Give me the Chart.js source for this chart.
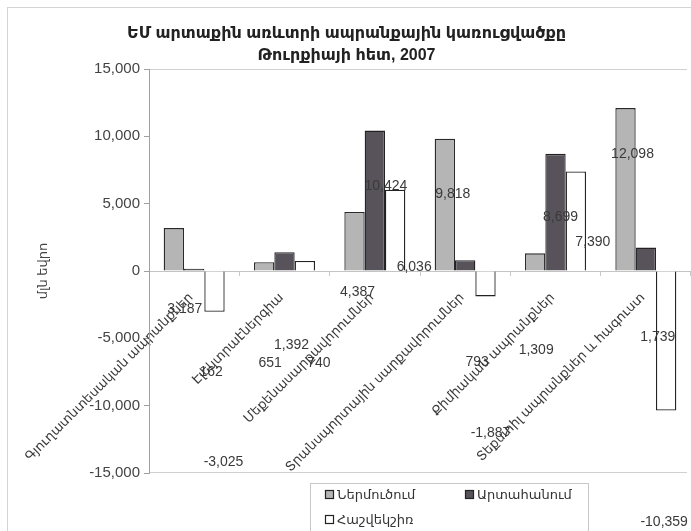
<!DOCTYPE html>
<html>
<head>
<meta charset="utf-8">
<script src="https://cdn.jsdelivr.net/npm/chart.js@4.4.1/dist/chart.umd.min.js"></script>
<style>
  html, body { margin: 0; padding: 0; background: #fff; }
  #wrap { width: 691px; height: 531px; }
</style>
</head>
<body>
<div id="wrap"><canvas id="c" width="691" height="531"></canvas></div>
<script>
// EU external trade with Turkey by product group, 2007 (million euro)
const categories = [
  'Գյուղատնտեսական ապրանքներ',
  'Էլեկտրաէներգիա',
  'Մեքենասարքավորումներ',
  'Տրանսպորտային սարքավորումներ',
  'Քիմիական ապրանքներ',
  'Տեքստիլ ապրանքներ և հագուստ'
];
const importValues  = [3187, 651, 4387, 9818, 1309, 12098];
const exportValues  = [162, 1392, 10424, 793, 8699, 1739];
const balanceValues = [-3025, 740, 6036, -1887, 7390, -10359];
const seriesNames = ['Ներմուծում', 'Արտահանում', 'Հաշվեկշիռ'];
const yTicks = [-15000, -10000, -5000, 0, 5000, 10000, 15000];
const titleLines = ['ԵՄ արտաքին առևտրի ապրանքային կառուցվածքը', 'Թուրքիայի հետ, 2007'];
const yTitle = 'մլն եվրո';

// where each value label sits, as a pixel shift from its bar's tip
const labelNudge = [
  [[11, 81], [6, 101], [3, 80], [8, 55], [1, 97], [7, 46]],
  [[17, 103], [7, 93], [11, 56], [12, 102], [5, 63], [12, 90]],
  [[9, 150], [14, 102], [19, 77], [5, 137], [17, 71], [-2, 112]]
];

const FONT = "Arial, 'Liberation Sans', 'DejaVu Sans', sans-serif";
const fmt = v => v.toLocaleString('en-US');

const frame = {
  id: 'frame',
  beforeDraw(chart) {
    const {ctx, chartArea: a, width, height} = chart;
    ctx.save();
    ctx.fillStyle = '#fff';
    ctx.fillRect(0, 0, width, height);
    ctx.strokeStyle = '#d4d4d4';
    ctx.lineWidth = 1;
    ctx.strokeRect(7.5, 7.5, width - 3, height + 20);
    ctx.strokeStyle = '#d0d0d0';
    ctx.beginPath();
    ctx.moveTo(a.left, Math.round(a.top) + 0.5);
    ctx.lineTo(a.right - 4, Math.round(a.top) + 0.5);
    ctx.moveTo(a.left, Math.round(a.bottom) - 0.5);
    ctx.lineTo(a.right - 4, Math.round(a.bottom) - 0.5);
    ctx.stroke();
    ctx.restore();
  }
};

const valueLabels = {
  id: 'valueLabels',
  afterDatasetsDraw(chart) {
    const {ctx} = chart;
    ctx.save();
    ctx.font = '14px ' + FONT;
    ctx.fillStyle = '#3a3a3a';
    ctx.textAlign = 'center';
    ctx.textBaseline = 'middle';
    chart.data.datasets.forEach((ds, di) => {
      const meta = chart.getDatasetMeta(di);
      meta.data.forEach((bar, i) => {
        const [dx, dy] = labelNudge[di][i];
        ctx.fillText(fmt(ds.data[i]), bar.x + dx, bar.y + dy);
      });
    });
    ctx.restore();
  }
};

const boxLegend = {
  id: 'boxLegend',
  afterDraw(chart) {
    const {ctx} = chart;
    const box = {x: 310, y: 483, w: 278, h: 60};
    const cols = [325, 465];
    const rows = [495, 520];
    ctx.save();
    ctx.strokeStyle = '#c8c8c8';
    ctx.lineWidth = 1;
    ctx.strokeRect(box.x + 0.5, box.y + 0.5, box.w, box.h);
    ctx.font = '13px ' + FONT;
    ctx.textBaseline = 'middle';
    ctx.textAlign = 'left';
    chart.data.datasets.forEach((ds, i) => {
      const x = cols[i % 2], y = rows[Math.floor(i / 2)];
      ctx.fillStyle = ds.backgroundColor;
      ctx.fillRect(x, y - 5, 9, 9);
      ctx.strokeStyle = '#222';
      ctx.lineWidth = 1.2;
      ctx.strokeRect(x + 0.5, y - 4.5, 8, 8);
      ctx.fillStyle = '#333';
      ctx.fillText(ds.label, x + 12, y);
    });
    ctx.restore();
  }
};

new Chart(document.getElementById('c'), {
  type: 'bar',
  data: {
    labels: categories,
    datasets: [
      {label: seriesNames[0], data: importValues, backgroundColor: '#b5b5b5', borderColor: '#2a2a2a', borderWidth: 1.3},
      {label: seriesNames[1], data: exportValues, backgroundColor: '#58535a', borderColor: '#222', borderWidth: 1.3},
      {label: seriesNames[2], data: balanceValues, backgroundColor: '#ffffff', borderColor: '#222', borderWidth: 1.3}
    ]
  },
  options: {
    responsive: false,
    animation: false,
    devicePixelRatio: 1,
    layout: {padding: {top: 0, bottom: 58, left: 2, right: 0}},
    datasets: {bar: {categoryPercentage: 0.675, barPercentage: 1}},
    plugins: {
      title: {
        display: true,
        text: titleLines,
        color: '#222',
        font: {family: FONT, size: 16, weight: 'bold', lineHeight: 1.4},
        padding: {top: 22, bottom: 2.2}
      },
      legend: {display: false},
      tooltip: {enabled: false}
    },
    scales: {
      x: {
        position: {y: 0},
        grid: {drawOnChartArea: false, offset: true, tickLength: 4, color: '#c8c8c8'},
        border: {color: '#c4c4c4'},
        ticks: {
          autoSkip: false, minRotation: 45, maxRotation: 45,
          padding: 15, labelOffset: -3,
          color: '#3a3a3a', font: {family: FONT, size: 13}
        }
      },
      y: {
        min: -15000, max: 15000,
        afterFit(scale) { scale.width = 147; },
        afterBuildTicks(scale) { scale.ticks = yTicks.map(v => ({value: v})); },
        grid: {drawOnChartArea: false, tickLength: 5, color: '#a0a0a0'},
        border: {color: '#a0a0a0'},
        ticks: {
          padding: 4, color: '#444',
          font: {family: FONT, size: 15},
          callback: v => fmt(v)
        },
        title: {
          display: true, text: yTitle, color: '#444',
          font: {family: FONT, size: 13},
          padding: {top: 34, bottom: 0}
        }
      }
    }
  },
  plugins: [frame, valueLabels, boxLegend]
});
</script>
</body>
</html>
